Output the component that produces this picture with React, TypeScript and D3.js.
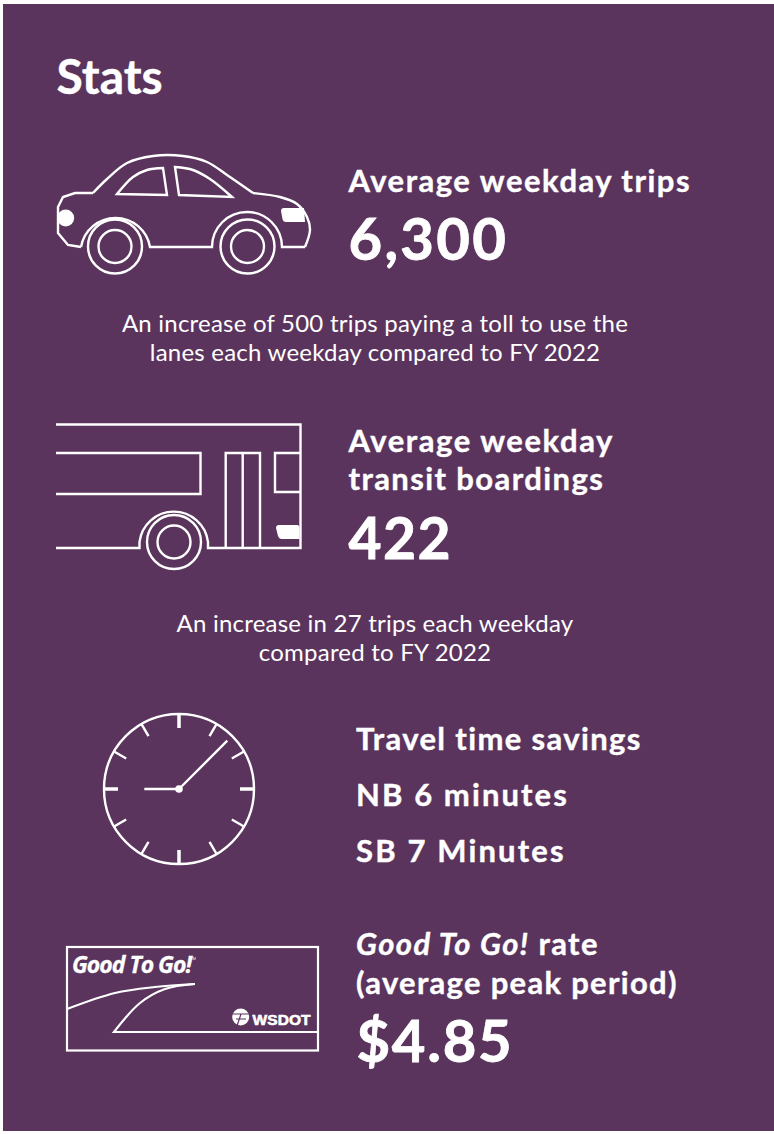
import * as d3 from 'd3';

const title = 'Stats';
const tripsLabel = 'Average weekday trips';
const tripsValue = '6,300';
const tripsNote = ['An increase of 500 trips paying a toll to use the', 'lanes each weekday compared to FY 2022'];
const transitLabel = ['Average weekday', 'transit boardings'];
const transitLabelSpacing = [1.55, 1.4];
const transitValue = '422';
const transitNote = ['An increase in 27 trips each weekday', 'compared to FY 2022'];
const savingsLines = ['Travel time savings', 'NB 6 minutes', 'SB 7 Minutes'];
const savingsSpacing = [1.35, 2.1, 2.15];
const rateValue = '$4.85';
const clockTicks = d3.range(0, 12);

const BG = '#5a345d';
const FONT = 'Lato, sans-serif';

type Pt = [number, number];
const curve = d3.line<Pt>().curve(d3.curveCatmullRom.alpha(0.5));
const straight = d3.line<Pt>();

const carRoof: Pt[] = [[93, 193], [107, 179], [127, 163], [153, 156], [183, 156], [207, 162], [227, 175], [253, 193]];
const carHood: Pt[] = [[253, 193], [280, 197], [297, 204], [307, 217], [310, 230], [305, 247]];
const carTail: Pt[] = [[81, 247], [68, 245], [58, 233], [58, 207], [63, 197], [75, 193], [93, 193]];
const windowA: Pt[] = [[117, 194], [133, 177], [147, 170], [163, 168]];
const windowB: Pt[] = [[175, 167], [193, 170], [210, 179], [232, 197]];
const roadTop: Pt[] = [[67, 1009], [115, 993], [155, 987], [195, 984]];
const roadBottom: Pt[] = [[195, 984], [165, 989], [140, 1003], [114, 1032]];

const Wheel = ({ cx, cy }: { cx: number; cy: number }) => (
  <g>
    <circle cx={cx} cy={cy} r={27} />
    <circle cx={cx} cy={cy} r={16.5} />
  </g>
);

const Car = () => (
  <g fill="none" stroke="#fff" strokeWidth={2.4}>
    <path d={curve(carRoof) ?? ''} />
    <path d={curve(carHood) ?? ''} />
    <path d={`M305 247H282A35 35 0 0 0 212 247H150A35 35 0 0 0 81 247`} />
    <path d={straight(carTail) ?? ''} />
    <path d={(curve(windowA) ?? '') + 'L167 195Z'} />
    <path d={(curve(windowB) ?? '') + 'L179 195Z'} />
    <Wheel cx={115} cy={246.5} />
    <Wheel cx={247.5} cy={246.5} />
    <circle cx={65.7} cy={218} r={8.5} fill="#fff" stroke="none" />
    <path d="M281 211Q281 208 284 208H304L305 222H286Q283 222 282.500 219Z" fill="#fff" stroke="none" />
  </g>
);

const Bus = () => (
  <g fill="none" stroke="#fff" strokeWidth={2.4}>
    <path d="M56 424.500H300.500V548H208V542A34.500 34.500 0 0 0 139.500 542V548H56" />
    <path d="M56 453H200.500V494H56" />
    <path d="M225.700 548V453H260V548M242.700 453V548" />
    <path d="M300.500 453H275V492H300.500" />
    <Wheel cx={174} cy={542} />
    <path d="M279 525H297Q299.500 525 299.500 528V539H281Q279 539 278 536L276 528Q276 525 279 525Z" fill="#fff" stroke="none" />
  </g>
);

const Clock = () => {
  const cx = 179;
  const cy = 789;
  const r = 75;
  const angle = d3.scaleLinear().domain([0, 12]).range([0, 2 * Math.PI]);
  return (
    <g fill="none" stroke="#fff">
      <circle cx={cx} cy={cy} r={r} strokeWidth={2.4} />
      {clockTicks.map(t => {
        const a = angle(t);
        const major = t % 3 === 0;
        return (
          <line
            key={t}
            x1={cx + Math.sin(a) * r}
            y1={cy - Math.cos(a) * r}
            x2={cx + Math.sin(a) * (r - 14)}
            y2={cy - Math.cos(a) * (r - 14)}
            strokeWidth={major ? 3.5 : 2.4}
          />
        );
      })}
      <path d={`M${cx} ${cy}L227.300 740.700M${cx} ${cy}H144.300`} strokeWidth={2.4} />
      <circle cx={cx} cy={cy} r={3.8} fill="#fff" stroke="none" />
    </g>
  );
};

const Ticket = () => (
  <g>
    <g fill="none" stroke="#fff" strokeWidth={2.2}>
      <rect x={67} y={947} width={251} height={103.500} />
      <path d={curve(roadTop) ?? ''} />
      <path d={(curve(roadBottom) ?? '') + 'H318'} />
    </g>
    <text x={72} y={973} fill="#fff" stroke="#fff" strokeWidth={0.3} fontFamily="'Open Sans', sans-serif" fontStyle="italic" fontWeight={700} fontSize={23} letterSpacing={-1}>
      Good To Go!
    </text>
    <text x={190} y={960} fill="#fff" fontFamily="sans-serif" fontSize={4}>TM</text>
    <circle cx={240.700} cy={1017} r={8.500} fill="#fff" />
    <path d="M232 1014H249M236 1019H246M241 1014L237 1026" stroke={BG} strokeWidth={1.200} fill="none" />
    <text x={252.500} y={1025} fill="#fff" stroke="#fff" strokeWidth={0.6} fontFamily="'Liberation Sans', sans-serif" fontWeight={700} fontSize={15.500} letterSpacing={0.100}>
      WSDOT
    </text>
  </g>
);

const heading = { fill: '#fff', stroke: '#fff', strokeWidth: 0.4, fontFamily: FONT, fontWeight: 700 };
const note = { fill: '#fff', fontFamily: FONT, fontWeight: 400, fontSize: 24, letterSpacing: 0.22, textAnchor: 'middle' as const };

export default function App() {
  return (
    <svg width={774} height={1134} style={{ position: 'absolute', left: 0, top: 0, background: '#fff' }}>
      <rect x={3} y={4} width={771} height={1127} fill={BG} />
      <text x={56.500} y={94} {...heading} fontSize={48}>{title}</text>

      <Car />
      <text x={348.500} y={192} {...heading} fontSize={31} letterSpacing={1.500}>{tripsLabel}</text>
      <text x={348.500} y={260} {...heading} strokeWidth={0.8} fontSize={58} letterSpacing={2.300}>{tripsValue}</text>
      {tripsNote.map((s, i) => (
        <text key={s} x={375} y={332 + i * 29} {...note}>{s}</text>
      ))}

      <Bus />
      {transitLabel.map((s, i) => (
        <text key={s} x={348.500} y={452 + i * 38} {...heading} fontSize={31} letterSpacing={transitLabelSpacing[i]}>{s}</text>
      ))}
      <text x={348.500} y={558.500} {...heading} strokeWidth={0.8} fontSize={57} letterSpacing={1.500}>{transitValue}</text>
      {transitNote.map((s, i) => (
        <text key={s} x={375} y={632 + i * 29} {...note}>{s}</text>
      ))}

      <Clock />
      {savingsLines.map((s, i) => (
        <text key={s} x={356} y={750 + i * 56} {...heading} fontSize={31} letterSpacing={savingsSpacing[i]}>{s}</text>
      ))}

      <Ticket />
      <text x={356} y={955} {...heading} fontSize={31} letterSpacing={1.400}>
        <tspan fontStyle="italic">Good To Go!</tspan> rate
      </text>
      <text x={356} y={994} {...heading} fontSize={31} letterSpacing={1.300}>(average peak period)</text>
      <text x={356.500} y={1062} {...heading} strokeWidth={0.8} fontSize={58} letterSpacing={1.700}>{rateValue}</text>
    </svg>
  );
}
